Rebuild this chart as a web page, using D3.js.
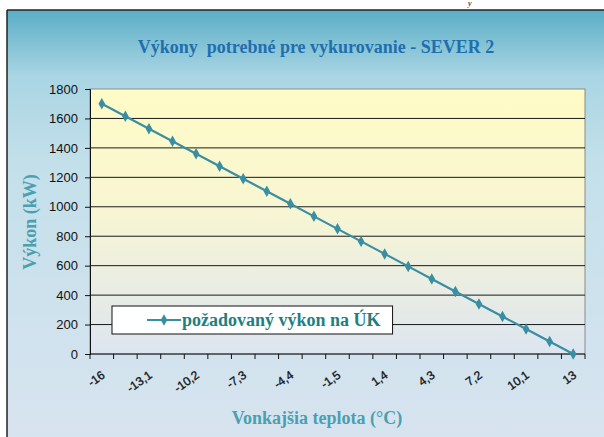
<!DOCTYPE html>
<html>
<head>
<meta charset="utf-8">
<script src="https://cdn.jsdelivr.net/npm/d3@7"></script>
<style>
  body { margin: 0; background: #fff; }
  svg { display: block; }
</style>
</head>
<body>
<div id="chart"></div>
<script>
// outside temperature categories (°C)
const temps = [-16, -14.55, -13.1, -11.65, -10.2, -8.75, -7.3, -5.85, -4.4, -2.95,
  -1.5, -0.05, 1.4, 2.85, 4.3, 5.75, 7.2, 8.65, 10.1, 11.55, 13];
// required power (kW)
const power = [1700, 1615, 1530, 1445, 1360, 1275, 1190, 1105, 1020, 935,
  850, 765, 680, 595, 510, 425, 340, 255, 170, 85, 0];
const yTicks = [0, 200, 400, 600, 800, 1000, 1200, 1400, 1600, 1800];
const seriesName = "požadovaný výkon na ÚK";
const title = "Výkony  potrebné pre vykurovanie - SEVER 2";

const W = 604, H = 437;
const plot = { left: 90, top: 89, right: 585, bottom: 354 };

const colors = {
  line: "#3a8ea3",
  title: "#1f6fae",
  axisTitle: "#4b9fae",
  legendText: "#1f8080",
  grid: "#1a1a1a",
  frame: "#8a8a8a",
};

const svg = d3.select("#chart").append("svg").attr("width", W).attr("height", H);
const defs = svg.append("defs");

const bgGrad = defs.append("linearGradient").attr("id", "bgGrad")
  .attr("x1", 0).attr("y1", 0).attr("x2", 0).attr("y2", 1);
bgGrad.append("stop").attr("offset", "0%").attr("stop-color", "#5aaec6");
bgGrad.append("stop").attr("offset", "15%").attr("stop-color", "#a9d5e3");
bgGrad.append("stop").attr("offset", "35%").attr("stop-color", "#c3e0ea");
bgGrad.append("stop").attr("offset", "100%").attr("stop-color", "#d8e4f0");

const plotGrad = defs.append("linearGradient").attr("id", "plotGrad")
  .attr("x1", 0).attr("y1", 0).attr("x2", 0).attr("y2", 1);
plotGrad.append("stop").attr("offset", "0%").attr("stop-color", "#fffbc6");
plotGrad.append("stop").attr("offset", "45%").attr("stop-color", "#f8f6d2");
plotGrad.append("stop").attr("offset", "100%").attr("stop-color", "#dde5f1");

// chart area
svg.append("rect").attr("x", 7).attr("y", 10).attr("width", W).attr("height", H)
  .attr("fill", "url(#bgGrad)");
svg.append("line").attr("x1", 7).attr("x2", W).attr("y1", 10).attr("y2", 10)
  .attr("stroke", "#222").attr("stroke-width", 1.5);
svg.append("line").attr("x1", 7).attr("x2", 7).attr("y1", 10).attr("y2", H)
  .attr("stroke", "#222").attr("stroke-width", 1.5);

// fragment of the page text above the chart
svg.append("text").attr("x", 468).attr("y", 6)
  .attr("font-family", "Liberation Serif").attr("font-style", "italic")
  .attr("font-weight", "bold").attr("font-size", 8).attr("fill", "#555")
  .text("y");

// plot area
svg.append("rect").attr("x", plot.left).attr("y", plot.top)
  .attr("width", plot.right - plot.left).attr("height", plot.bottom - plot.top)
  .attr("fill", "url(#plotGrad)").attr("stroke", colors.frame).attr("stroke-width", 1);

const x = d3.scaleBand().domain(d3.range(temps.length))
  .range([plot.left, plot.right]);
const y = d3.scaleLinear().domain([0, 1800]).range([plot.bottom, plot.top]);

// gridlines
svg.append("g").selectAll("line").data(yTicks.filter(d => d > 0 && d < 1800)).join("line")
  .attr("x1", plot.left).attr("x2", plot.right)
  .attr("y1", d => y(d)).attr("y2", d => y(d))
  .attr("stroke", colors.grid).attr("stroke-width", 1);

// y axis
const yAxis = svg.append("g").attr("transform", `translate(${plot.left},0)`)
  .call(d3.axisLeft(y).tickValues(yTicks).tickSize(5).tickPadding(7).tickFormat(d3.format("d")));
yAxis.select(".domain").attr("stroke", "#111");
yAxis.selectAll(".tick line").attr("stroke", "#111");
yAxis.selectAll("text").attr("font-family", "Liberation Sans, Arial").attr("font-size", 13)
  .attr("fill", "#111");

// x axis (ticks between categories)
const xg = svg.append("g").attr("transform", `translate(0,${plot.bottom})`);
xg.append("line").attr("x1", plot.left).attr("x2", plot.right)
  .attr("stroke", "#111");
xg.selectAll("line.tick").data(d3.range(temps.length + 1)).join("line")
  .attr("class", "tick")
  .attr("x1", i => plot.left + i * x.step()).attr("x2", i => plot.left + i * x.step())
  .attr("y1", 0).attr("y2", 5).attr("stroke", "#111");

const fmt = v => String(v).replace(".", ",");
xg.selectAll("text").data(temps.map((t, i) => ({ t, i })).filter(d => d.i % 2 === 0)).join("text")
  .attr("transform", d => `translate(${x(d.i) + x.bandwidth() / 2 + 4},${23}) rotate(-35)`)
  .attr("text-anchor", "end")
  .attr("font-family", "Liberation Sans, Arial").attr("font-size", 12).attr("fill", "#111")
  .attr("stroke", "#111").attr("stroke-width", 0.3)
  .text(d => fmt(d.t));

// series
const cx = i => x(i) + x.bandwidth() / 2;
svg.append("path").datum(power)
  .attr("d", d3.line().x((d, i) => cx(i)).y(d => y(d)))
  .attr("fill", "none").attr("stroke", colors.line).attr("stroke-width", 2.2);
svg.append("g").selectAll("path").data(power).join("path")
  .attr("transform", (d, i) => `translate(${cx(i)},${y(d)})`)
  .attr("d", d3.symbol(d3.symbolDiamond, 38))
  .attr("fill", colors.line);

// legend
const lg = svg.append("g").attr("transform", "translate(112,306)");
const lgText = lg.append("text").attr("x", 70).attr("y", 20)
  .attr("font-family", "Liberation Serif").attr("font-weight", "bold").attr("font-size", 18)
  .attr("fill", colors.legendText).text(seriesName);
const lgW = 70 + lgText.node().getComputedTextLength() + 12;
lg.insert("rect", "text").attr("width", lgW).attr("height", 28)
  .attr("fill", "#fff").attr("stroke", "#111").attr("stroke-width", 1);
lg.append("line").attr("x1", 35).attr("x2", 69).attr("y1", 14).attr("y2", 14)
  .attr("stroke", colors.line).attr("stroke-width", 2.2);
lg.append("path").attr("transform", "translate(52,14)")
  .attr("d", d3.symbol(d3.symbolDiamond, 38)).attr("fill", colors.line);

// titles
svg.append("text").attr("x", 316).attr("y", 53).attr("text-anchor", "middle")
  .attr("font-family", "Liberation Serif").attr("font-weight", "bold").attr("font-size", 18)
  .attr("fill", colors.title).style("white-space", "pre").text(title);
svg.append("text").attr("transform", "translate(36,222) rotate(-90)").attr("text-anchor", "middle")
  .attr("font-family", "Liberation Serif").attr("font-weight", "bold").attr("font-size", 18)
  .attr("fill", colors.axisTitle).text("Výkon (kW)");
svg.append("text").attr("x", 317).attr("y", 424).attr("text-anchor", "middle")
  .attr("font-family", "Liberation Serif").attr("font-weight", "bold").attr("font-size", 18)
  .attr("fill", colors.axisTitle).text("Vonkajšia teplota (°C)");
</script>
</body>
</html>
